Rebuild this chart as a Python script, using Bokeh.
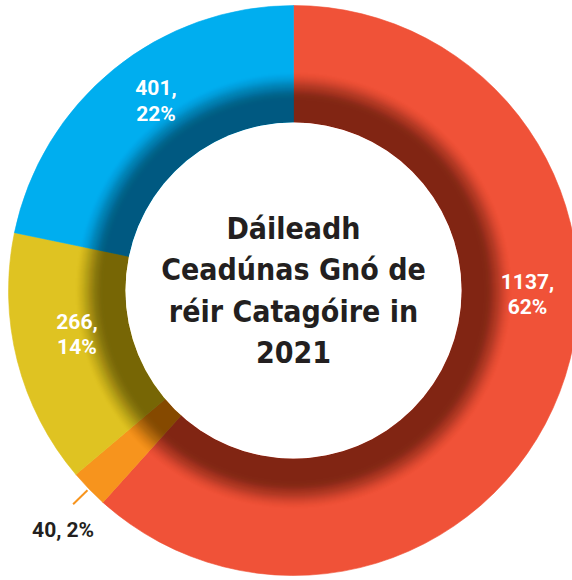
import math
from bokeh.plotting import figure
from bokeh.models import Range1d
from bokeh.core.properties import value
from bokeh.embed import file_html
from bokeh.resources import INLINE

# ---- data ----
values = [1137, 40, 266, 401]
percent_labels = ["62%", "2%", "14%", "22%"]
colors = ["#F05238", "#F7941D", "#DFC322", "#00AEEF"]
title_lines = ["Dáileadh", "Ceadúnas Gnó de", "réir Catagóire in", "2021"]

# ---- layout (page pixels) ----
W, H = 572, 580
cx, cy = 293, 290
r_in, r_out = 168, 285
label_angle_deg = [-1, None, 191.5, 126]
label_radius = [234, None, 221, 234]

p = figure(width=W, height=H, x_range=Range1d(0, W), y_range=Range1d(0, H),
           output_backend="svg", toolbar_location=None, min_border=0,
           x_axis_type=None, y_axis_type=None)
p.grid.visible = False
p.outline_line_color = None
p.background_fill_color = "white"
p.border_fill_color = "white"

total = sum(values)
starts, ends = [], []
a = math.pi / 2
for v in values:
    sweep = v / total * 2 * math.pi
    starts.append(a)
    ends.append(a - sweep)
    a -= sweep

p.annular_wedge(x=cx, y=cy, inner_radius=r_in, outer_radius=r_out,
                start_angle=starts, end_angle=ends, direction="clock",
                fill_color=colors, line_color=colors, line_width=0.6)

# inner shadow: stacked rings, all starting at r_in
max_a, plateau, fade_end = 0.42, 190, 220
N = 30
radii = [plateau + (fade_end - plateau) * (k + 1) / N for k in range(N)]
def A(r):
    if r <= plateau:
        return max_a
    t = (r - plateau) / (fade_end - plateau)
    t = min(max(t, 0), 1)
    s = t * t * (3 - 2 * t)
    return max_a * (1 - s)
targets = []
prev = plateau
for r in radii:
    targets.append(A((prev + r) / 2))
    prev = r
alphas = []
for j in range(N):
    nxt = targets[j + 1] if j + 1 < N else 0.0
    alphas.append(1 - (1 - targets[j]) / (1 - nxt))
p.annulus(x=cx, y=cy, inner_radius=r_in, outer_radius=radii,
          fill_color="black", fill_alpha=alphas, line_color=None)
p.circle(x=cx, y=cy, radius=r_in, fill_color="white", line_color=None)

# slice labels
lx, ly, lt = [], [], []
for i, v in enumerate(values):
    if label_angle_deg[i] is None:
        continue
    ang = math.radians(label_angle_deg[i])
    lx.append(cx + label_radius[i] * math.cos(ang))
    ly.append(cy + label_radius[i] * math.sin(ang))
    lt.append(f"{v},\n{percent_labels[i]}")
p.text(x=lx, y=ly, text=lt, text_color="white", text_font=value("Roboto"),
       text_font_style="bold", text_font_size="21px", text_align="center",
       text_baseline="middle", text_line_height=1.07)

# small slice: leader + outside label
mid = (starts[1] + ends[1]) / 2
x0, y0 = cx + (r_out + 2) * math.cos(mid), cy + (r_out + 2) * math.sin(mid)
x1, y1 = cx + (r_out + 22) * math.cos(mid), cy + (r_out + 22) * math.sin(mid)
p.segment(x0=[x0], y0=[y0], x1=[x1], y1=[y1], line_color=colors[1], line_width=2)
p.text(x=[x1], y=[y1], text=[f"{values[1]}, {percent_labels[1]}"], text_color="#231F20",
       text_font=value("Roboto"), text_font_style="bold", text_font_size="21px",
       text_align="center", text_baseline="top", x_offset=-10, y_offset=14)

# centre title
p.text(x=[cx], y=[cy], text=["\n".join(title_lines)], text_color="#231F20",
       text_font=value("'DejaVu Sans Condensed', 'DejaVu Sans', sans-serif"),
       text_font_style="bold",
       text_font_size="30px", text_align="center", text_baseline="middle",
       text_line_height=1.19)

open("out.html", "w").write(file_html(p, INLINE))
